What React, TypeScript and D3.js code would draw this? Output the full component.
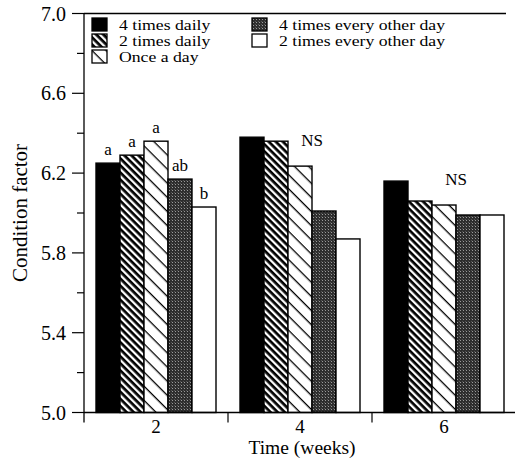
import React from "react";
import { scaleBand, scaleLinear, range } from "d3";

// data
const weeks = ["2", "4", "6"];
const seriesNames = [
  "4 times daily",
  "2 times daily",
  "Once a day",
  "4 times every other day",
  "2 times every other day",
];
const fourDaily = [6.25, 6.38, 6.16];
const twoDaily = [6.29, 6.36, 6.06];
const onceDaily = [6.36, 6.235, 6.04];
const fourOther = [6.17, 6.01, 5.99];
const twoOther = [6.03, 5.87, 5.99];
const week2Letters = ["a", "a", "a", "ab", "b"];
const nsWeeks = ["4", "6"];
const yTicks = [5.0, 5.4, 5.8, 6.2, 6.6, 7.0];

const values = [fourDaily, twoDaily, onceDaily, fourOther, twoOther];
const fills = ["#000", "url(#dense)", "url(#sparse)", "url(#stipple)", "#fff"];

const W = 515, H = 460;
const margin = { top: 13.5, right: 0, bottom: 47.5, left: 84 };
const font = "'Liberation Serif', 'Times New Roman', serif";

function App() {
  const x = scaleBand().domain(weeks).range([margin.left, 516]);
  const xs = scaleBand().domain(range(5).map(String)).range([12, 132]);
  const y = scaleLinear().domain([5, 7]).range([H - margin.bottom, margin.top]);
  const minor = range(5.0, 7.01, 0.2);
  const y0 = y(5);

  return (
    <svg width={W} height={H} style={{ position: "absolute", left: 0, top: 0, background: "#fff" }} fontFamily={font}>
      <defs>
        <pattern id="dense" width="5" height="5" patternUnits="userSpaceOnUse" patternTransform="rotate(45)">
          <rect width="5" height="5" fill="#fff" />
          <rect width="5" height="2.7" fill="#000" />
        </pattern>
        <pattern id="sparse" width="10" height="10" patternUnits="userSpaceOnUse" patternTransform="rotate(45)">
          <rect width="10" height="10" fill="#fff" />
          <rect width="10" height="1.3" fill="#000" />
        </pattern>
        <pattern id="stipple" width="3" height="3" patternUnits="userSpaceOnUse">
          <rect width="3" height="3" fill="#2e2e2e" />
          <rect x="1" y="1" width="1" height="1" fill="#9a9a9a" />
          <rect x="0" y="0" width="1" height="1" fill="#555" />
        </pattern>
      </defs>

      {/* bars */}
      {weeks.map((w, gi) => (
        <g key={w} transform={`translate(${x(w)},0)`}>
          {values.map((s, si) => (
            <rect
              key={si}
              x={xs(String(si))}
              y={y(s[gi])}
              width={xs.bandwidth()}
              height={y0 - y(s[gi])}
              fill={fills[si]}
              stroke="#000"
              strokeWidth={1.4}
            />
          ))}
        </g>
      ))}

      {/* significance letters */}
      {week2Letters.map((l, i) => (
        <text key={i} x={x("2")! + xs(String(i))! + xs.bandwidth() / 2} y={y(values[i][0]) - 8}
          fontSize={17} textAnchor="middle">{l}</text>
      ))}
      {nsWeeks.map((w) => {
        const gi = weeks.indexOf(w);
        return (
          <text key={w} x={x(w)! + xs("3")!} y={y(onceDaily[gi]) - 20} fontSize={17} textAnchor="middle">NS</text>
        );
      })}

      {/* frame */}
      <line x1={margin.left} x2={margin.left} y1={margin.top} y2={y0 + 10} stroke="#000" strokeWidth={1.3} />
      <line x1={margin.left} x2={506} y1={margin.top} y2={margin.top} stroke="#000" strokeWidth={1.3} />
      <line x1={margin.left} x2={515} y1={y0} y2={y0} stroke="#000" strokeWidth={1.3} />

      {/* y axis */}
      {minor.map((t, i) => (
        <line key={i} x1={margin.left - (i % 2 === 0 ? 12 : 7)} x2={margin.left} y1={y(t)} y2={y(t)} stroke="#000" strokeWidth={1.2} />
      ))}
      {yTicks.map((t) => (
        <text key={t} x={66} y={y(t)} dy="0.35em" fontSize={20} textAnchor="end">{t.toFixed(1)}</text>
      ))}
      <text transform={`translate(27,${(margin.top + y0) / 2}) rotate(-90)`} fontSize={21} textAnchor="middle">Condition factor</text>

      {/* x axis */}
      {weeks.slice(1).map((w) => (
        <line key={w} x1={x(w)} x2={x(w)} y1={y0} y2={y0 + 10} stroke="#000" strokeWidth={1.2} />
      ))}
      {weeks.map((w) => (
        <text key={w} x={x(w)! + x.bandwidth() / 2} y={433} fontSize={19} textAnchor="middle">{w}</text>
      ))}
      <text x={302} y={454} fontSize={19.5} textAnchor="middle">Time (weeks)</text>

      {/* legend */}
      {seriesNames.map((n, i) => {
        const col = i < 3 ? 0 : 1;
        const row = i < 3 ? i : i - 3;
        const lx = col === 0 ? 92 : 252;
        const ly = 24.5 + row * 16;
        return (
          <g key={n}>
            <rect x={lx} y={ly - 6.5} width={15} height={13} fill={fills[i]} stroke="#000" strokeWidth={1.3} />
            <text transform={`translate(${lx + 27},${ly}) scale(1.18,1)`} dy="0.35em" fontSize={15}>{n}</text>
          </g>
        );
      })}
    </svg>
  );
}

export default App;
